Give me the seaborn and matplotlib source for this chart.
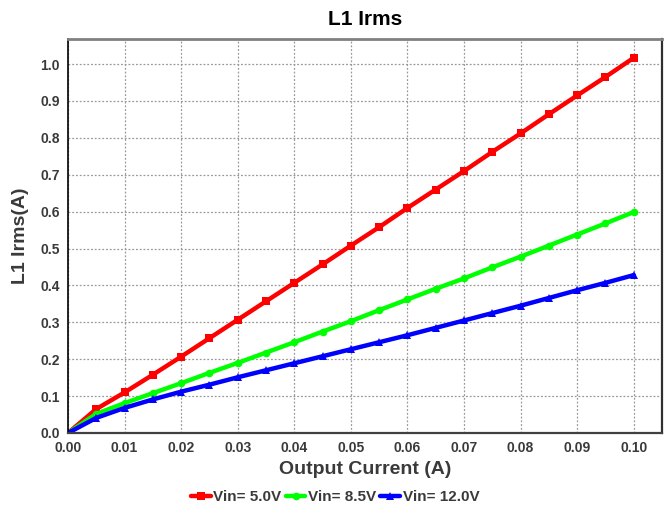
import numpy as np
import pandas as pd
import seaborn as sns
import matplotlib.pyplot as plt

# Output current sweep (A)
current = [0.000, 0.005, 0.010, 0.015, 0.020, 0.025, 0.030, 0.035, 0.040, 0.045,
           0.050, 0.055, 0.060, 0.065, 0.070, 0.075, 0.080, 0.085, 0.090, 0.095, 0.100]

# L1 RMS current (A) per input voltage
irms_5v0 = [0.000, 0.065, 0.110, 0.158, 0.207, 0.257, 0.307, 0.357, 0.407, 0.457,
            0.508, 0.558, 0.610, 0.660, 0.710, 0.762, 0.812, 0.864, 0.915, 0.965, 1.017]
irms_8v5 = [0.000, 0.052, 0.081, 0.108, 0.135, 0.163, 0.190, 0.218, 0.246, 0.275,
            0.303, 0.333, 0.362, 0.391, 0.419, 0.449, 0.478, 0.508, 0.538, 0.568, 0.599]
irms_12v0 = [0.000, 0.041, 0.068, 0.091, 0.112, 0.131, 0.151, 0.170, 0.189, 0.208,
             0.227, 0.246, 0.265, 0.285, 0.305, 0.325, 0.345, 0.366, 0.387, 0.407, 0.428]

series_names = ["Vin= 5.0V", "Vin= 8.5V", "Vin= 12.0V"]
series_colors = ["#ff0000", "#00ff00", "#0000ff"]
series_markers = ["s", "o", "^"]

df = pd.concat([
    pd.DataFrame({"current": current, "irms": vals, "series": name})
    for name, vals in zip(series_names, [irms_5v0, irms_8v5, irms_12v0])
])

sns.set_style("white")
plt.rcParams["font.family"] = ["Liberation Sans", "DejaVu Sans"]
plt.rcParams["font.weight"] = "bold"

fig = plt.figure(figsize=(6.7, 5.15), dpi=100)
ax = fig.add_axes([68 / 670, 1 - 433 / 515, (662 - 68) / 670, (433 - 39) / 515])

sns.lineplot(data=df, x="current", y="irms", hue="series", style="series",
             palette=series_colors, markers=series_markers, dashes=False,
             linewidth=3.2, markersize=5.5, markeredgewidth=0, ax=ax, legend=True)

ax.set_xlim(0, 0.105)
ax.set_ylim(0, 1.068)
ax.set_xticks(np.arange(0, 0.1001, 0.01))
ax.set_xticklabels([f"{v:.2f}" for v in np.arange(0, 0.1001, 0.01)])
ax.set_yticks(np.arange(0, 1.001, 0.1))
ax.set_yticklabels([f"{v:.1f}" for v in np.arange(0, 1.001, 0.1)])
ax.grid(True, color="#999999", linestyle=(0, (1.5, 1.5)), linewidth=0.9)
ax.tick_params(axis="both", labelsize=10, colors="#3a3a3a", length=0, pad=6)
for lbl in ax.get_xticklabels() + ax.get_yticklabels():
    lbl.set_fontweight("bold")

ax.spines["left"].set_color("black")
ax.spines["left"].set_linewidth(1.2)
ax.spines["bottom"].set_color("#404040")
ax.spines["bottom"].set_linewidth(1.6)
ax.spines["top"].set_color("#808080")
ax.spines["top"].set_linewidth(2.0)
ax.spines["right"].set_color("#303030")
ax.spines["right"].set_linewidth(1.6)

ax.set_title("L1 Irms", fontsize=15, fontweight="bold", color="black", pad=10)
ax.set_xlabel("Output Current (A)", fontsize=14, fontweight="bold", color="#3a3a3a", labelpad=4)
ax.set_ylabel("L1 Irms(A)", fontsize=14, fontweight="bold", color="#3a3a3a", labelpad=8)

handles, labels = ax.get_legend_handles_labels()
ax.legend(handles, labels, loc="center", bbox_to_anchor=(0.5, 1 - 497 / 515),
          bbox_transform=fig.transFigure, ncol=3, frameon=False,
          handlelength=1.3, handletextpad=0.15, columnspacing=0.3,
          prop={"weight": "bold", "size": 11}, labelcolor="#3a3a3a")

fig.savefig("out.png", dpi=100)
